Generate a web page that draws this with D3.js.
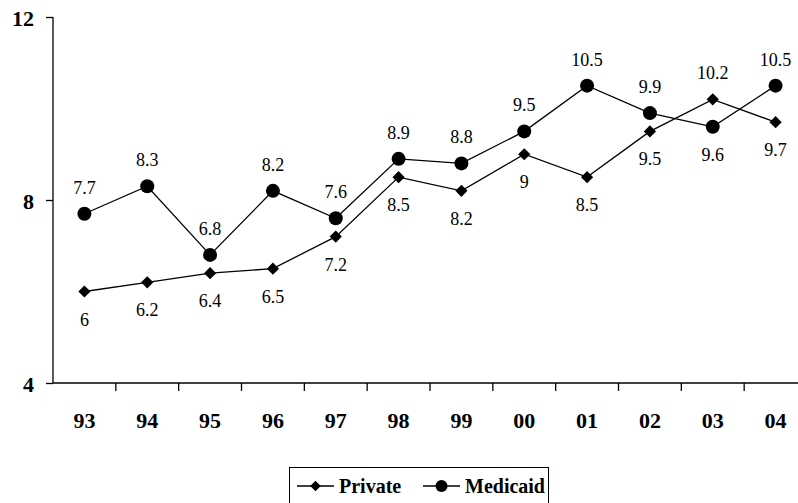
<!DOCTYPE html>
<html><head><meta charset="utf-8">
<script src="https://cdn.jsdelivr.net/npm/d3@7"></script>
<style>body{margin:0;background:#fff}svg{display:block}svg text{font-family:"Liberation Serif",Tinos,"Times New Roman",Times,"Nimbus Roman","DejaVu Serif",serif}</style>
</head><body><svg id="c" width="798" height="503"></svg>
<script>
const categories = ["93","94","95","96","97","98","99","00","01","02","03","04"];
const privateVals = [6, 6.2, 6.4, 6.5, 7.2, 8.5, 8.2, 9, 8.5, 9.5, 10.2, 9.7];
const medicaidVals = [7.7, 8.3, 6.8, 8.2, 7.6, 8.9, 8.8, 9.5, 10.5, 9.9, 9.6, 10.5];
const yTicks = [4, 8, 12];
const seriesNames = ["Private", "Medicaid"];

const svg = d3.select("#c");
const x = d3.scaleBand().domain(categories).range([53, 807]);
const y = d3.scaleLinear().domain([4, 12]).range([383, 17]);
const cx = d => x(d) + x.bandwidth() / 2;

// Y axis
const yAxis = svg.append("g").attr("transform", "translate(53,0)")
  .call(d3.axisLeft(y).tickValues(yTicks).tickSize(7).tickPadding(12).tickFormat(d3.format("d")));
yAxis.attr("font-family", null).attr("font-size", null);
yAxis.select(".domain").attr("d", `M0,${y(12)}V${y(4)}`).attr("stroke", "#000").attr("stroke-width", 1.3);
yAxis.selectAll(".tick line").attr("stroke", "#000").attr("stroke-width", 1.3);
yAxis.selectAll("text").attr("font-weight", "bold").attr("font-size", 22)
  .attr("fill", "#000").attr("dy", "0.4em");

// X axis
const xAxis = svg.append("g").attr("transform", `translate(0,${y(4)})`)
  .call(d3.axisBottom(x).tickSize(0).tickPadding(0));
xAxis.attr("font-family", null).attr("font-size", null);
xAxis.select(".domain").attr("d", "M53,0H807").attr("stroke", "#000").attr("stroke-width", 1.3);
xAxis.selectAll("text").attr("font-weight", "bold").attr("font-size", 22)
  .attr("fill", "#000").attr("y", 45).attr("dy", 0);
// boundary ticks
svg.append("g").selectAll("line").data(categories.slice(1)).join("line")
  .attr("x1", d => x(d)).attr("x2", d => x(d))
  .attr("y1", y(4)).attr("y2", y(4) + 8).attr("stroke", "#000").attr("stroke-width", 1.3);

const line = d3.line().x((d, i) => cx(categories[i])).y(d => y(d));
[privateVals, medicaidVals].forEach(vals => {
  svg.append("path").attr("d", line(vals)).attr("fill", "none").attr("stroke", "#000").attr("stroke-width", 1.3);
});
const diamond = d3.symbol().type(d3.symbolDiamond2).size(95);
svg.append("g").selectAll("path").data(privateVals).join("path")
  .attr("d", diamond).attr("transform", (d, i) => `translate(${cx(categories[i])},${y(d)})`)
  .attr("fill", "#000");
svg.append("g").selectAll("circle").data(medicaidVals).join("circle")
  .attr("cx", (d, i) => cx(categories[i])).attr("cy", d => y(d)).attr("r", 7).attr("fill", "#000");

// labels
function labels(vals, other) {
  svg.append("g").selectAll("text").data(vals).join("text")
    .attr("x", (d, i) => cx(categories[i]))
    .attr("y", (d, i) => d >= other[i] ? y(d) - 20 : y(d) + 34)
    .attr("text-anchor", "middle").attr("font-size", 18).attr("fill", "#000")
    .text(d => d);
}
labels(privateVals, medicaidVals);
labels(medicaidVals, privateVals);

// legend
const lg = svg.append("g");
lg.append("rect").attr("x", 289.5).attr("y", 467.5).attr("width", 259).attr("height", 40)
  .attr("fill", "#fff").attr("stroke", "#000").attr("stroke-width", 1);
const items = [{x: 297, tx: 339}, {x: 423, tx: 465}];
seriesNames.forEach((name, i) => {
  const it = items[i], my = 486;
  lg.append("line").attr("x1", it.x).attr("x2", it.x + 37).attr("y1", my).attr("y2", my)
    .attr("stroke", "#000").attr("stroke-width", 1.3);
  if (i === 0) lg.append("path").attr("d", d3.symbol().type(d3.symbolDiamond2).size(70))
    .attr("transform", `translate(${it.x + 18.5},${my})`).attr("fill", "#000");
  else lg.append("circle").attr("cx", it.x + 18.5).attr("cy", my).attr("r", 6).attr("fill", "#000");
  lg.append("text").attr("x", it.tx).attr("y", 493).attr("font-weight", "bold")
    .attr("font-size", 20).attr("fill", "#000").text(name);
});
</script></body></html>
